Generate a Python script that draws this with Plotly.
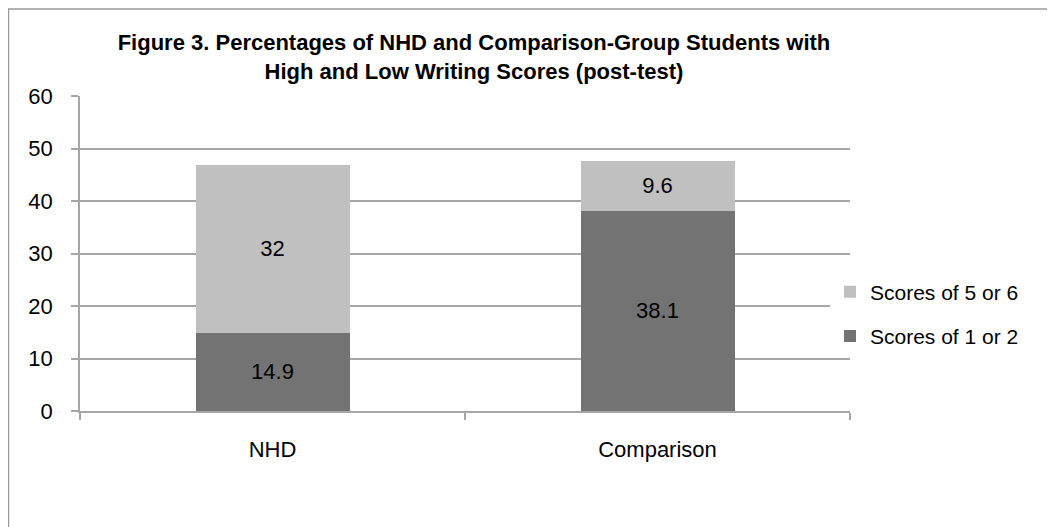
import plotly.graph_objects as go

categories = ["NHD", "Comparison"]
low_scores = [14.9, 38.1]     # Scores of 1 or 2
high_scores = [32, 9.6]       # Scores of 5 or 6
series_names = ["Scores of 1 or 2", "Scores of 5 or 6"]
title_text = ("<b>Figure 3. Percentages of NHD and Comparison-Group Students with<br>"
              "High and Low Writing Scores (post-test)</b>")

FONT = "Liberation Sans, Arial, Helvetica, sans-serif"
GRID = "#a6a6a6"

W, H = 1047, 519           # page body has an 8px margin
L, T, PW, PH = 72, 88, 770, 315

fig = go.Figure()
fig.add_trace(go.Bar(
    x=categories, y=low_scores, name=series_names[0], legendgroup="a", legendrank=2,
    marker=dict(color="#737373", line=dict(width=0)),
    text=low_scores, texttemplate="%{y}", textposition="inside",
    insidetextanchor="middle", constraintext="none",
    textfont=dict(family=FONT, size=22, color="#000000"),
    width=0.4,
))
fig.add_trace(go.Bar(
    x=categories, y=high_scores, name=series_names[1], legendgroup="b", legendrank=1,
    marker=dict(color="#c0c0c0", line=dict(width=0)),
    text=high_scores, texttemplate="%{y}", textposition="inside",
    insidetextanchor="middle", constraintext="none",
    textfont=dict(family=FONT, size=22, color="#000000"),
    width=0.4,
))

# outer frame (extends beyond right/bottom edges like the reference)
fig.add_shape(type="rect", xref="paper", yref="paper",
              x0=(0.5 - L) / PW, x1=(W + 20 - L) / PW,
              y0=(T + PH - (H + 20)) / PH, y1=(T + PH - 1) / PH,
              line=dict(color="#9a9a9a", width=1.5), fillcolor="rgba(0,0,0,0)",
              layer="below")

fig.update_layout(
    width=W, height=H,
    margin=dict(l=L, r=W - L - PW, t=T, b=H - T - PH, pad=0),
    paper_bgcolor="white", plot_bgcolor="white",
    barmode="stack",
    font=dict(family=FONT, size=22, color="#000000"),
    title=dict(text=title_text, x=466 / W, xref="container", xanchor="center",
               y=1 - 42 / H, yref="container", yanchor="middle",
               font=dict(family=FONT, size=22, color="#000000")),
    showlegend=True,
    legend=dict(x=(822 - L) / PW, xanchor="left", y=(PH + T - 306) / PH, yanchor="middle",
                traceorder="grouped", tracegroupgap=14,
                bgcolor="rgba(255,255,255,1)", borderwidth=0,
                font=dict(family=FONT, size=21, color="#000000")),
    xaxis=dict(showgrid=False, showline=True, linecolor=GRID, linewidth=1.5,
               ticks="outside", ticklen=7, tickcolor=GRID, tickwidth=1.5,
               tickson="boundaries", ticklabelstandoff=18,
               tickfont=dict(family=FONT, size=22, color="#000000")),
    yaxis=dict(range=[0, 60], dtick=10, showgrid=True, gridcolor=GRID, gridwidth=1.5,
               showline=True, linecolor=GRID, linewidth=1.5,
               ticks="outside", ticklen=7, tickcolor=GRID, tickwidth=1.5,
               ticklabelstandoff=14, zeroline=False,
               tickfont=dict(family=FONT, size=22, color="#000000")),
)

fig.write_html("out.html")
